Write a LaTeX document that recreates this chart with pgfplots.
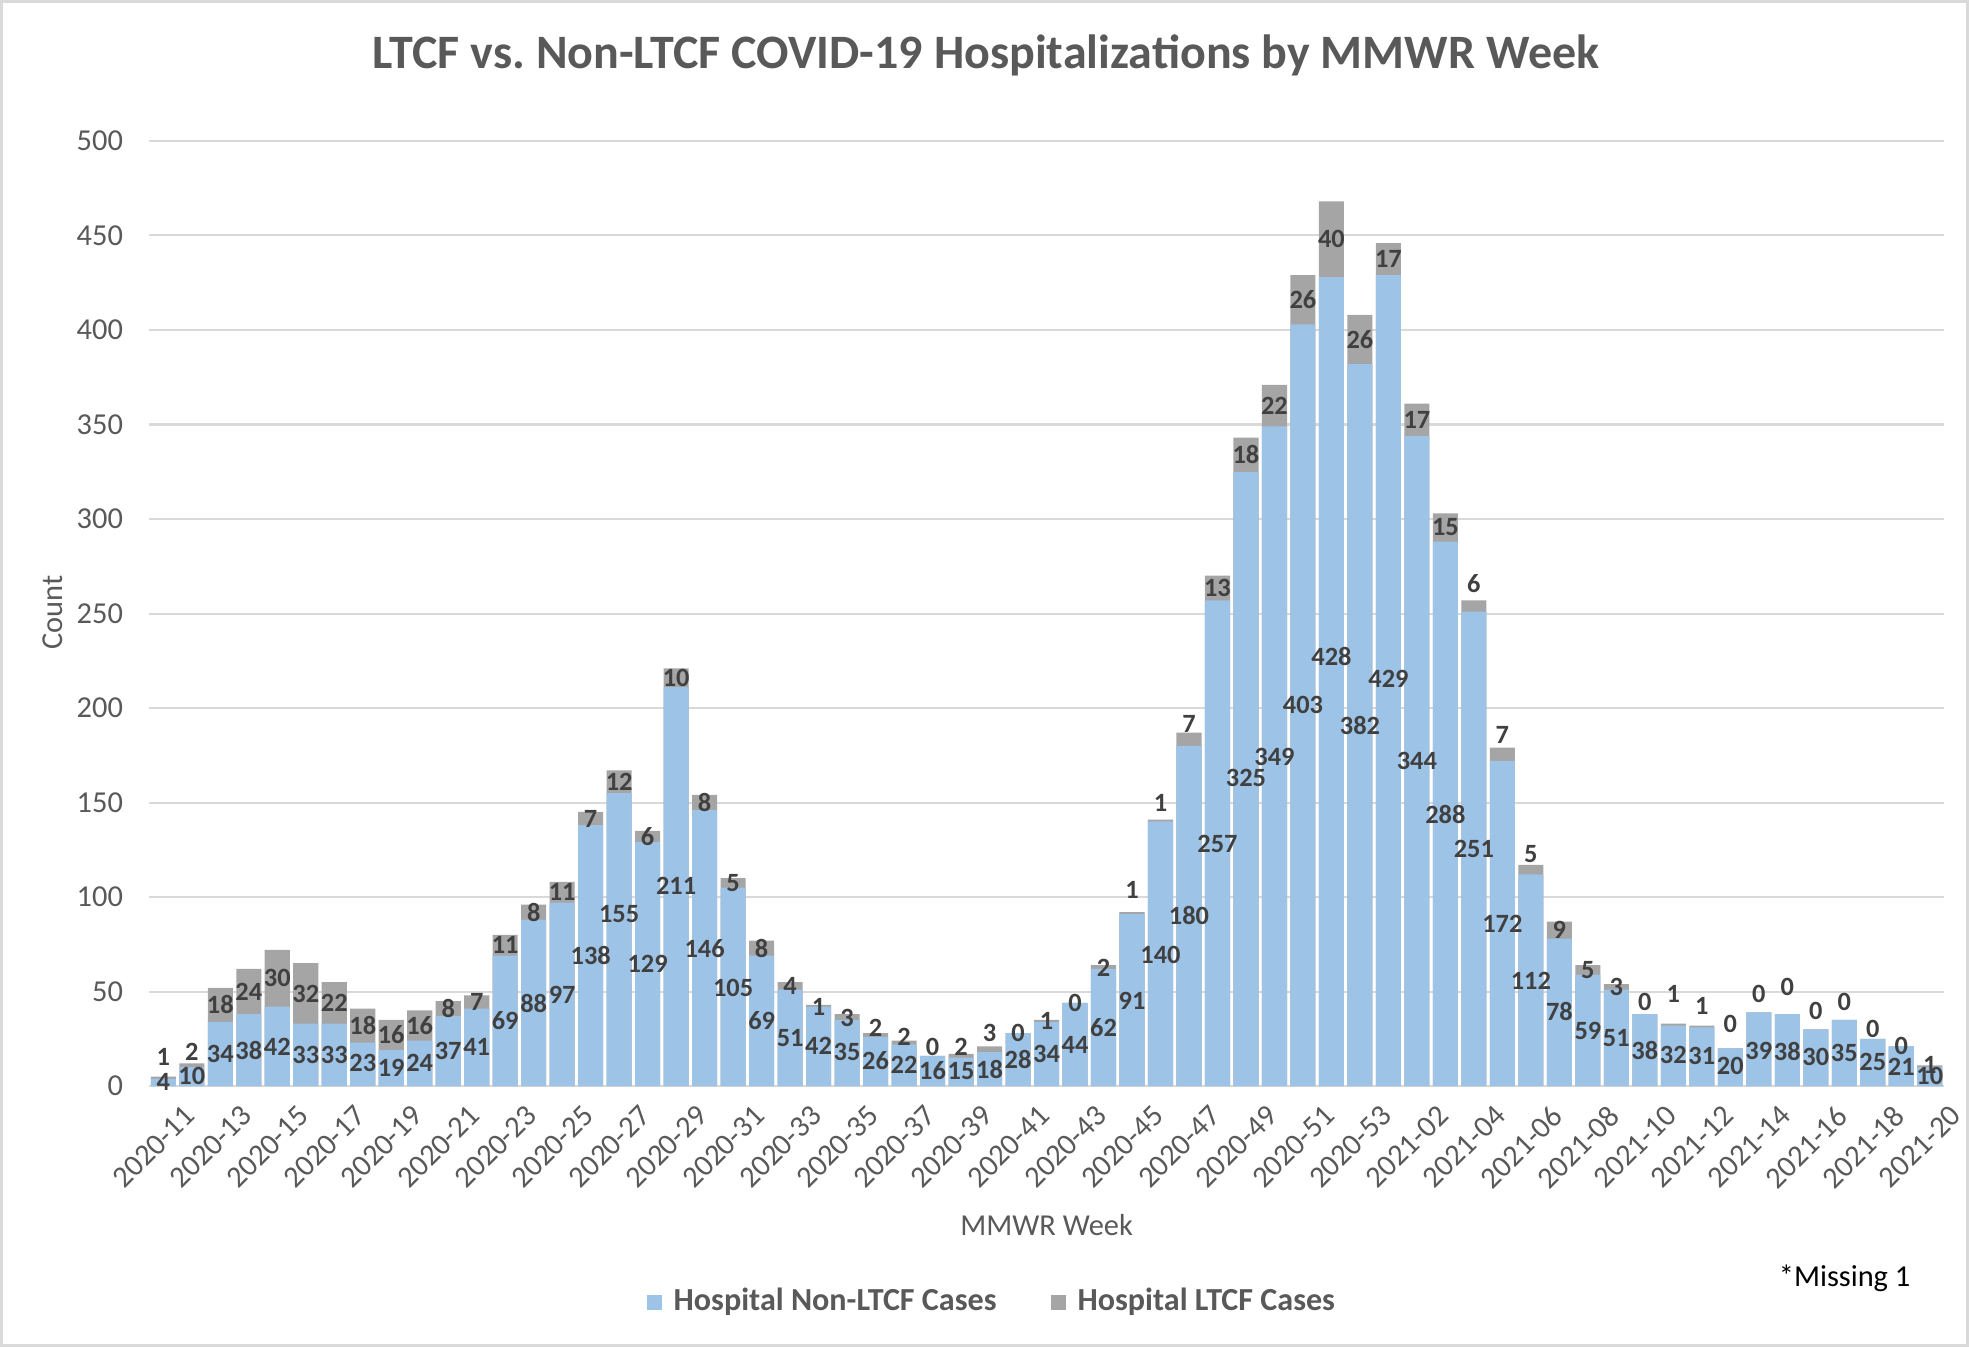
\documentclass[border=0pt]{standalone}
\usepackage{fontspec}
\setmainfont{Carlito}
\usepackage{pgfplots}
\usepackage{pgfplotstable}
\pgfplotsset{compat=1.18}
\definecolor{bblue}{HTML}{9DC3E6}
\definecolor{bgray}{HTML}{A5A5A5}
\definecolor{txt}{HTML}{595959}
\definecolor{lbl}{HTML}{404040}
\definecolor{gridc}{HTML}{D9D9D9}
\pgfplotstableread{
x non ltcf nly ly
0 4 1 2 15.3
1 10 2 5.3 18
2 34 18 17 43
3 38 24 19 50
4 42 30 21 57
5 33 32 16.6 49
6 33 22 16.6 44
7 23 18 12 32
8 19 16 9.8 27
9 24 16 12.3 32
10 37 8 18.6 41
11 41 7 20.8 44.5
12 69 11 34.6 74.5
13 88 8 43.5 92
14 97 11 48 102.5
15 138 7 69 141.5
16 155 12 91 161
17 129 6 64.5 132
18 211 10 105.7 216
19 146 8 72.8 150
20 105 5 52 107.5
21 69 8 34.6 73
22 51 4 25.3 53
23 42 1 21.5 42
24 35 3 17.8 36
25 26 2 13.3 31
26 22 2 11.3 26
27 16 0 8 20.6
28 15 2 8 20.6
29 18 3 8.8 28
30 28 0 14 28
31 34 1 16.8 34.6
32 44 0 22 44
33 62 2 31.2 62.5
34 91 1 45.3 104
35 140 1 69.5 150
36 180 7 90 191.5
37 257 13 128.3 263.5
38 325 18 163 334
39 349 22 174 360
40 403 26 201.5 416
41 428 40 227.4 448
42 382 26 190.8 395
43 429 17 215.5 437.5
44 344 17 172 352.5
45 288 15 143.8 295.5
46 251 6 125.3 266
47 172 7 85.8 185.5
48 112 5 55.9 123
49 78 9 39.2 82.5
50 59 5 29.4 61.5
51 51 3 25.4 52.5
52 38 0 18.8 44.5
53 32 1 16.6 48.5
54 31 1 16 42.5
55 20 0 10.4 33
56 39 0 18.8 48.5
57 38 0 18.4 52.5
58 30 0 15.2 40
59 35 0 17.4 44.5
60 25 0 12.6 30
61 21 0 10.2 21
62 10 1 5.3 11
}\data
\begin{document}
\frenchspacing
\begin{tikzpicture}
\useasboundingbox (0,0) rectangle (582.5pt,398.5pt);
\draw[gridc, line width=0.8pt] (0.4pt,0.4pt) rectangle (582.1pt,398.1pt);
\begin{axis}[
  at={(44.1pt,77.2pt)}, anchor=south west,
  scale only axis, width=531pt, height=279.6pt,
  xmin=-0.5, xmax=62.5, ymin=0, ymax=500,
  ytick={0,50,...,500},
  xtick={0,2,...,62},
  xticklabels={2020-11,2020-13,2020-15,2020-17,2020-19,2020-21,2020-23,2020-25,2020-27,2020-29,2020-31,2020-33,2020-35,2020-37,2020-39,2020-41,2020-43,2020-45,2020-47,2020-49,2020-51,2020-53,2021-02,2021-04,2021-06,2021-08,2021-10,2021-12,2021-14,2021-16,2021-18,2021-20},
  axis line style={draw=none},
  ymajorgrids, grid style={gridc, line width=0.6pt},
  major tick length=0pt,
  tick label style={font=\fontsize{9}{11}\selectfont, text=txt},
  xticklabel style={rotate=45, anchor=north east, inner sep=1pt, xshift=1.5pt, yshift=-6.5pt},
  yticklabel style={xshift=-4.2pt},
  /pgf/number format/assume math mode=true,
  clip=false,
]
\addplot[ybar, bar width=0.88, bar shift=0pt, fill=bgray, draw=none] table[x=x, y expr=\thisrow{non}+\thisrow{ltcf}]{\data};
\addplot[ybar, bar width=0.88, bar shift=0pt, fill=bblue, draw=none] table[x=x, y=non]{\data};
\addplot[draw=none, no markers, nodes near coords, point meta=explicit,
  nodes near coords style={anchor=center, inner sep=0pt, font=\bfseries\fontsize{7.8}{9}\selectfont, text=lbl}]
  table[x=x, y=nly, meta=non]{\data};
\addplot[draw=none, no markers, nodes near coords, point meta=explicit,
  nodes near coords style={anchor=center, inner sep=0pt, font=\bfseries\fontsize{7.8}{9}\selectfont, text=lbl}]
  table[x=x, y=ly, meta=ltcf]{\data};
\end{axis}
\node[font=\bfseries\fontsize{14.2}{17}\selectfont, text=txt] at (291.7pt,382.1pt) {LTCF vs. Non-LTCF COVID-19 Hospitalizations by MMWR Week};
\node[rotate=90, font=\fontsize{9}{11}\selectfont, text=txt] at (15.7pt,217.2pt) {Count};
\node[font=\fontsize{9}{11}\selectfont, text=txt] at (309.6pt,36pt) {MMWR Week};
\fill[bblue] (191.4pt,11.1pt) rectangle (195.8pt,15.5pt);
\node[anchor=west, inner sep=0pt, font=\bfseries\fontsize{9.5}{11}\selectfont, text=txt] at (199.1pt,13.3pt) {Hospital Non-LTCF Cases};
\fill[bgray] (310.9pt,11.1pt) rectangle (315.3pt,15.5pt);
\node[anchor=west, inner sep=0pt, font=\bfseries\fontsize{9.5}{11}\selectfont, text=txt] at (318.6pt,13.3pt) {Hospital LTCF Cases};
\node[font=\fontsize{9}{11}\selectfont, text=black] at (545.7pt,20.4pt) {*Missing 1};
\end{tikzpicture}
\end{document}
